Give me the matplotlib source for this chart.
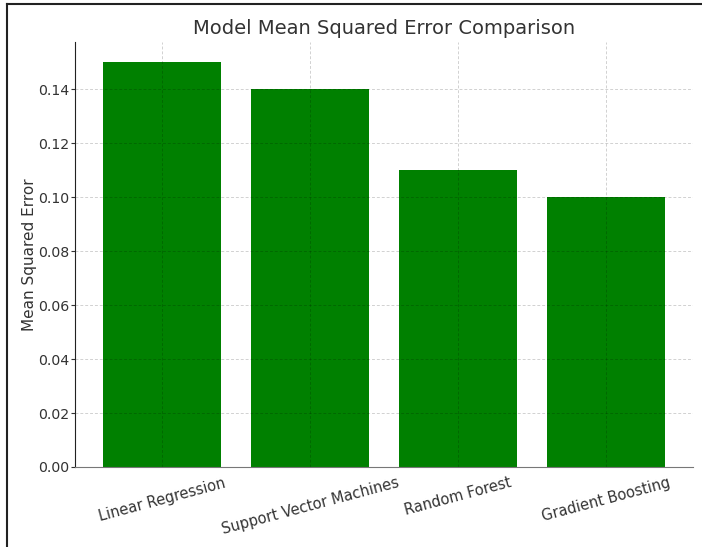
import matplotlib.pyplot as plt
from matplotlib.lines import Line2D

plt.rcParams['font.family'] = ['DejaVu Sans']

# Data
models = ['Linear Regression', 'Support Vector Machines', 'Random Forest', 'Gradient Boosting']
mse = [0.15, 0.14, 0.11, 0.10]

fig = plt.figure(figsize=(7.02, 5.47), dpi=100)
ax = fig.add_axes([75 / 702, 1 - 467 / 547, 618 / 702, 425 / 547])

ax.bar(models, mse, color='green', width=0.8)

# Styling
ax.set_title('Model Mean Squared Error Comparison', fontsize=14, color='#333333', pad=6)
ax.set_ylabel('Mean Squared Error', fontsize=11, color='#333333', labelpad=1)
ax.tick_params(axis='x', labelsize=10.5, labelcolor='#333333', rotation=15, length=0, pad=6)
ax.tick_params(axis='y', labelsize=10.2, labelcolor='#333333', color='#333333', length=3, pad=1)
ax.grid(True, linestyle=(0, (3, 2)), color='black', alpha=0.18, linewidth=0.7)
for s in ['top', 'right']:
    ax.spines[s].set_visible(False)
ax.spines['left'].set_color('#222222')
ax.spines['bottom'].set_color('#777777')

# screenshot frame on left and top
fig.add_artist(Line2D([7 / 702, 7 / 702], [0, 1 - 4 / 547], color='#222222', lw=1.5, transform=fig.transFigure))
fig.add_artist(Line2D([7 / 702, 1], [1 - 4 / 547, 1 - 4 / 547], color='#222222', lw=1.5, transform=fig.transFigure))

fig.savefig('out.png', dpi=100)
